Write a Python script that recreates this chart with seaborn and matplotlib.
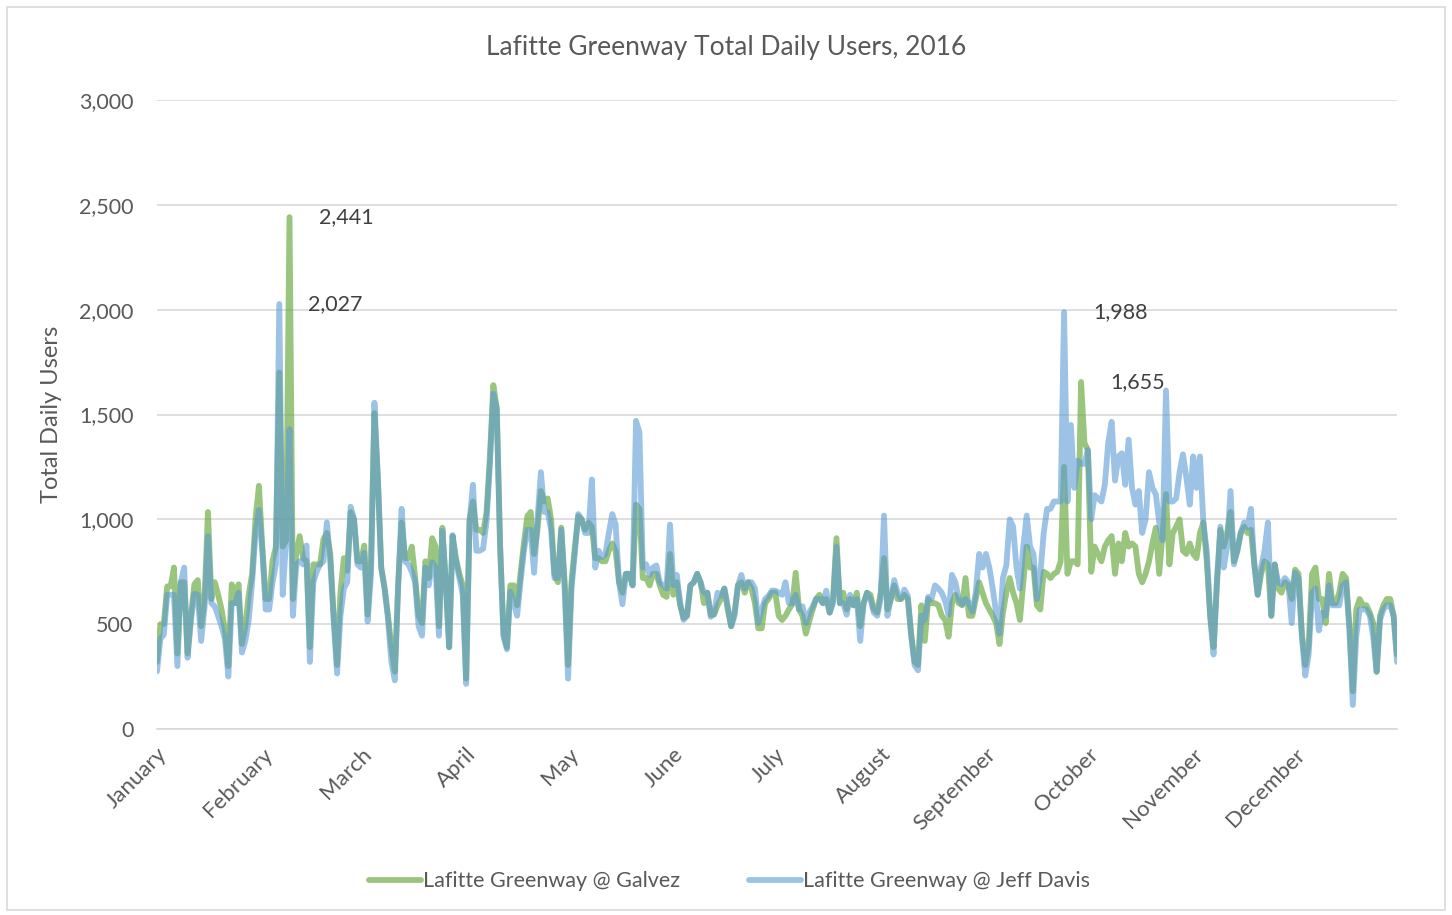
import numpy as np
import pandas as pd
import matplotlib
matplotlib.use("Agg")
import matplotlib.pyplot as plt
import matplotlib.dates as mdates
from matplotlib.patches import Rectangle
import seaborn as sns

# daily totals, one list per month
galvez_jan = [320, 500, 500, 680, 680, 770, 360, 700, 700, 360, 540, 690, 710, 490, 620, 1035,
              620, 700, 640, 570, 470, 300, 690, 600, 690, 405, 490, 640, 740, 1000, 1160]
galvez_feb = [870, 620, 620, 800, 870, 1700, 870, 900, 2441, 620, 835, 920, 815, 800, 390,
              785, 785, 785, 905, 935, 835, 540, 305, 650, 815, 755, 1035, 1000, 800]
galvez_mar = [800, 875, 545, 800, 1507, 1200, 770, 670, 540, 390, 273, 690, 985, 815, 815, 870,
              720, 540, 505, 800, 720, 910, 870, 490, 960, 700, 390, 920, 815, 740, 685]
galvez_apr = [240, 1000, 1085, 950, 950, 935, 1035, 1300, 1640, 1530, 870, 455, 390, 685, 685,
              590, 740, 885, 1015, 1035, 835, 950, 1135, 1085, 1100, 1000, 740, 700, 960, 700]
galvez_may = [305, 700, 870, 1015, 1000, 950, 985, 965, 815, 815, 800, 800, 850, 885, 850, 700,
              650, 740, 740, 685, 1070, 1050, 720, 720, 685, 740, 740, 685, 640, 630, 835]
galvez_jun = [640, 700, 590, 530, 540, 685, 700, 740, 700, 600, 650, 545, 545, 590, 620, 670,
              570, 490, 555, 685, 700, 650, 700, 670, 600, 480, 480, 600, 620, 650]
galvez_jul = [650, 540, 520, 540, 570, 595, 745, 570, 540, 455, 515, 570, 620, 640, 600, 620,
              555, 620, 910, 600, 650, 570, 620, 590, 650, 490, 600, 650, 640, 570, 555]
galvez_aug = [650, 815, 570, 620, 685, 620, 620, 640, 620, 455, 320, 305, 590, 420, 620, 600,
              600, 590, 540, 520, 440, 600, 640, 600, 590, 720, 540, 540, 620, 700, 650]
galvez_sep = [600, 570, 540, 505, 405, 555, 650, 720, 650, 600, 520, 700, 870, 770, 770, 590,
              570, 750, 740, 720, 740, 750, 800, 1250, 740, 800, 800, 785, 1655, 1365]
galvez_oct = [1330, 750, 870, 835, 800, 870, 900, 920, 740, 885, 800, 935, 870, 885, 870, 740,
              700, 740, 800, 885, 960, 740, 935, 1120, 785, 935, 965, 1000, 850, 835, 885]
galvez_nov = [835, 815, 935, 985, 800, 540, 390, 700, 950, 870, 935, 1035, 800, 850, 935, 965,
              935, 950, 785, 640, 740, 800, 785, 540, 785, 670, 650, 700, 685, 620]
galvez_dec = [760, 740, 455, 305, 405, 740, 770, 620, 620, 505, 740, 600, 600, 650, 740, 720,
              490, 180, 570, 620, 590, 590, 555, 505, 273, 540, 590, 620, 620, 540, 355]

jeff_jan = [275, 430, 450, 640, 640, 640, 300, 700, 770, 340, 520, 645, 640, 420, 580, 920,
            600, 585, 540, 490, 430, 250, 600, 600, 650, 365, 420, 520, 700, 935, 1045]
jeff_feb = [850, 570, 570, 700, 785, 2027, 640, 900, 1430, 540, 785, 800, 785, 875, 320,
            700, 750, 785, 800, 985, 800, 520, 265, 540, 670, 700, 1060, 1000, 785]
jeff_mar = [770, 840, 513, 740, 1556, 1200, 770, 670, 525, 320, 232, 690, 1050, 800, 785, 750,
            700, 490, 445, 770, 685, 795, 770, 445, 945, 700, 390, 925, 800, 720, 640]
jeff_apr = [215, 985, 1165, 850, 850, 860, 990, 1265, 1600, 1530, 870, 440, 380, 655, 605,
            540, 700, 850, 950, 950, 745, 1000, 1225, 1035, 1035, 950, 720, 720, 950, 670]
jeff_may = [240, 670, 840, 1025, 1000, 935, 935, 1190, 770, 850, 820, 835, 935, 1025, 975, 700,
            595, 740, 740, 685, 1470, 1415, 770, 785, 735, 770, 780, 700, 685, 670, 975]
jeff_jun = [685, 735, 600, 520, 540, 685, 700, 740, 700, 650, 650, 535, 555, 650, 635, 670,
            585, 490, 540, 685, 735, 670, 700, 700, 670, 505, 570, 620, 635, 660]
jeff_jul = [660, 650, 640, 700, 600, 600, 640, 570, 585, 505, 555, 585, 620, 620, 600, 660,
            555, 600, 870, 600, 600, 545, 640, 590, 620, 420, 600, 650, 620, 555, 540]
jeff_aug = [620, 1018, 540, 620, 710, 650, 620, 665, 635, 440, 305, 280, 540, 520, 630, 620,
            685, 670, 650, 610, 545, 735, 700, 620, 595, 620, 600, 560, 650, 835, 770]
jeff_sep = [835, 770, 670, 555, 455, 720, 780, 1000, 965, 770, 670, 870, 1018, 870, 835, 620,
            735, 935, 1050, 1050, 1085, 1085, 1085, 1988, 1085, 1450, 1150, 1280, 1265, 1265]
jeff_oct = [1330, 1000, 1115, 1100, 1085, 1165, 1365, 1465, 1185, 1300, 1315, 1165, 1380, 1150,
            1070, 1135, 935, 1000, 1225, 1150, 1120, 985, 900, 1615, 1085, 1085, 1100, 1225,
            1310, 1200, 1070]
jeff_nov = [1300, 1150, 1300, 985, 850, 540, 355, 700, 965, 770, 870, 1135, 785, 850, 935, 985,
            960, 1050, 785, 640, 770, 850, 985, 540, 785, 700, 690, 720, 700, 505]
jeff_dec = [745, 720, 440, 255, 355, 650, 670, 470, 555, 540, 685, 590, 590, 590, 685, 700,
            470, 115, 440, 570, 570, 570, 540, 440, 273, 520, 570, 590, 590, 540, 320]

galvez = (galvez_jan + galvez_feb + galvez_mar + galvez_apr + galvez_may + galvez_jun +
          galvez_jul + galvez_aug + galvez_sep + galvez_oct + galvez_nov + galvez_dec)
jeff_davis = (jeff_jan + jeff_feb + jeff_mar + jeff_apr + jeff_may + jeff_jun +
              jeff_jul + jeff_aug + jeff_sep + jeff_oct + jeff_nov + jeff_dec)

dates = pd.date_range("2016-01-01", "2016-12-31", freq="D")
df = pd.DataFrame({"date": dates, "Galvez": galvez, "Jeff Davis": jeff_davis})

# labelled peaks: (date, value)
peak_labels = [("2016-02-09", 2441), ("2016-02-06", 2027),
               ("2016-09-24", 1988), ("2016-09-29", 1655)]

sns.set_style("white")
plt.rcParams["font.family"] = ["Lato", "DejaVu Sans"]

grey = "#595959"
fig = plt.figure(figsize=(14.52, 9.15), dpi=100)
ax = fig.add_axes([157 / 1452, 1 - 729 / 915, 1240 / 1452, 629 / 915])

sns.lineplot(data=df, x="date", y="Galvez", ax=ax, color="#70AD47", alpha=0.7,
             linewidth=4.2, label="Lafitte Greenway @ Galvez")
sns.lineplot(data=df, x="date", y="Jeff Davis", ax=ax, color="#5B9BD5", alpha=0.6,
             linewidth=4.2, label="Lafitte Greenway @ Jeff Davis")

for d, v in peak_labels:
    ax.annotate(f"{v:,}", xy=(pd.Timestamp(d), v), xytext=(21, 0), textcoords="offset points",
                ha="left", va="center", fontsize=15.5, color="#404040")

ax.set_ylim(0, 3000)
ax.set_yticks(np.arange(0, 3001, 500))
ax.yaxis.set_major_formatter(matplotlib.ticker.FuncFormatter(lambda v, p: f"{int(v):,}"))
ax.set_xlim(pd.Timestamp("2016-01-01"), pd.Timestamp("2016-12-31"))
ax.xaxis.set_major_locator(mdates.MonthLocator())
ax.xaxis.set_major_formatter(mdates.DateFormatter("%B"))
ax.grid(axis="y", color="#D9D9D9", linewidth=1.2)
ax.set_axisbelow(True)
for s in ["top", "right", "left"]:
    ax.spines[s].set_visible(False)
ax.spines["bottom"].set_color("#D9D9D9")
ax.spines["bottom"].set_linewidth(1.2)

ax.tick_params(axis="y", length=0, pad=17, labelsize=15.5, labelcolor=grey)
ax.tick_params(axis="x", length=0, pad=11, labelsize=16, labelcolor=grey)
for lab in ax.get_xticklabels():
    lab.set_rotation(45)
    lab.set_ha("right")
    lab.set_va("top")
    lab.set_rotation_mode("anchor")
    lab.set_x(lab.get_position()[0])

ax.set_xlabel("")
ax.set_ylabel("Total Daily Users", fontsize=17, color=grey, labelpad=12)

fig.text(0.5, 1 - 47 / 915, "Lafitte Greenway Total Daily Users, 2016", fontsize=19,
         color=grey, ha="center", va="center", fontstretch="condensed")

ax.legend(loc="center", bbox_to_anchor=(0.4617, -0.242), ncol=2, frameon=False,
          fontsize=15.5, handlelength=2.4, handletextpad=0.1, columnspacing=3.2,
          labelcolor=grey)

fig.patches.append(Rectangle((7 / 1452, 5 / 915), 1438 / 1452, 903 / 915, transform=fig.transFigure,
                             fill=False, edgecolor="#D9D9D9", linewidth=1.2))

fig.savefig("out.png", dpi=100, facecolor="white")
